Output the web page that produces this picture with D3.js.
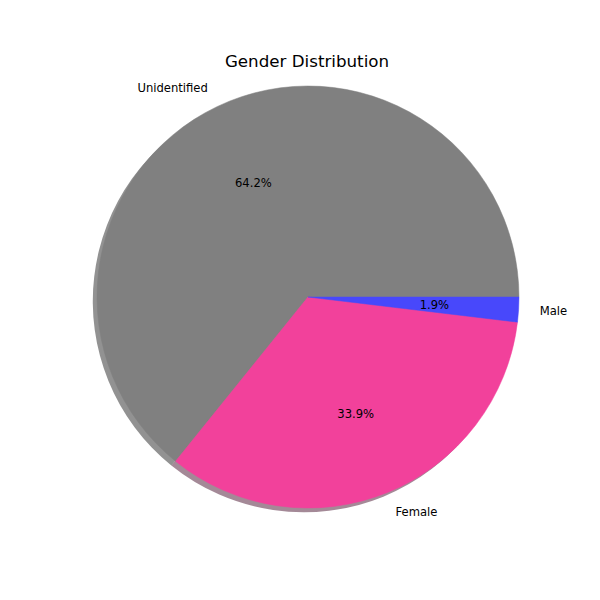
<!DOCTYPE html>
<html>
<head>
<meta charset="utf-8">
<script src="https://cdn.jsdelivr.net/npm/d3@7"></script>
<style>
  html, body { margin: 0; padding: 0; background: #fff; }
  svg { display: block; font-family: "DejaVu Sans", sans-serif; }
</style>
</head>
<body>
<svg id="chart" width="600" height="600"></svg>
<script>
const categories = ["Unidentified", "Female", "Male"];
const values = [64.2, 33.9, 1.9];
const colors = ["#808080", "#f2419b", "#4848fb"];
const title = "Gender Distribution";

const svg = d3.select("#chart");
const cx = 308, cy = 297, R = 211;
const shadowOffset = 0.02 * R;

const data = categories.map((c, i) => ({ label: c, value: values[i], color: colors[i] }));

// matplotlib: start at 3 o'clock, counter-clockwise
const pie = d3.pie().value(d => d.value).sort(null)
  .startAngle(Math.PI / 2).endAngle(Math.PI / 2 - 2 * Math.PI);
const arcs = pie(data);
const total = d3.sum(values);

const arc = d3.arc().innerRadius(0).outerRadius(R);
const labelArc = d3.arc().innerRadius(1.1 * R).outerRadius(1.1 * R);
const pctArc = d3.arc().innerRadius(0.6 * R).outerRadius(0.6 * R);

const g = svg.append("g").attr("transform", `translate(${cx},${cy})`);

// shadow
g.append("g").attr("transform", `translate(${-shadowOffset},${shadowOffset})`)
  .selectAll("path").data(arcs).join("path")
  .attr("d", arc)
  .attr("fill", d => {
    const c = d3.rgb(d.data.color);
    return d3.rgb(c.r * 0.3, c.g * 0.3, c.b * 0.3).toString();
  })
  .attr("opacity", 0.5);

// wedges
g.append("g").selectAll("path").data(arcs).join("path")
  .attr("d", arc)
  .attr("fill", d => d.data.color)
  .attr("stroke", d => d.data.color)
  .attr("stroke-width", 0.5);

// labels
g.append("g").selectAll("text").data(arcs).join("text")
  .attr("x", d => labelArc.centroid(d)[0])
  .attr("y", d => labelArc.centroid(d)[1])
  .attr("text-anchor", d => labelArc.centroid(d)[0] > 0 ? "start" : "end")
  .attr("dominant-baseline", "central")
  .attr("font-size", "11.6px")
  .attr("fill", "#000")
  .text(d => d.data.label);

// percentages
g.append("g").selectAll("text").data(arcs).join("text")
  .attr("x", d => pctArc.centroid(d)[0])
  .attr("y", d => pctArc.centroid(d)[1])
  .attr("text-anchor", "middle")
  .attr("dominant-baseline", "central")
  .attr("font-size", "11.6px")
  .attr("fill", "#000")
  .text(d => (d.value / total * 100).toFixed(1) + "%");

// title
svg.append("text")
  .attr("x", 307).attr("y", 67)
  .attr("text-anchor", "middle")
  .attr("font-size", "16.7px")
  .attr("fill", "#000")
  .text(title);
</script>
</body>
</html>
